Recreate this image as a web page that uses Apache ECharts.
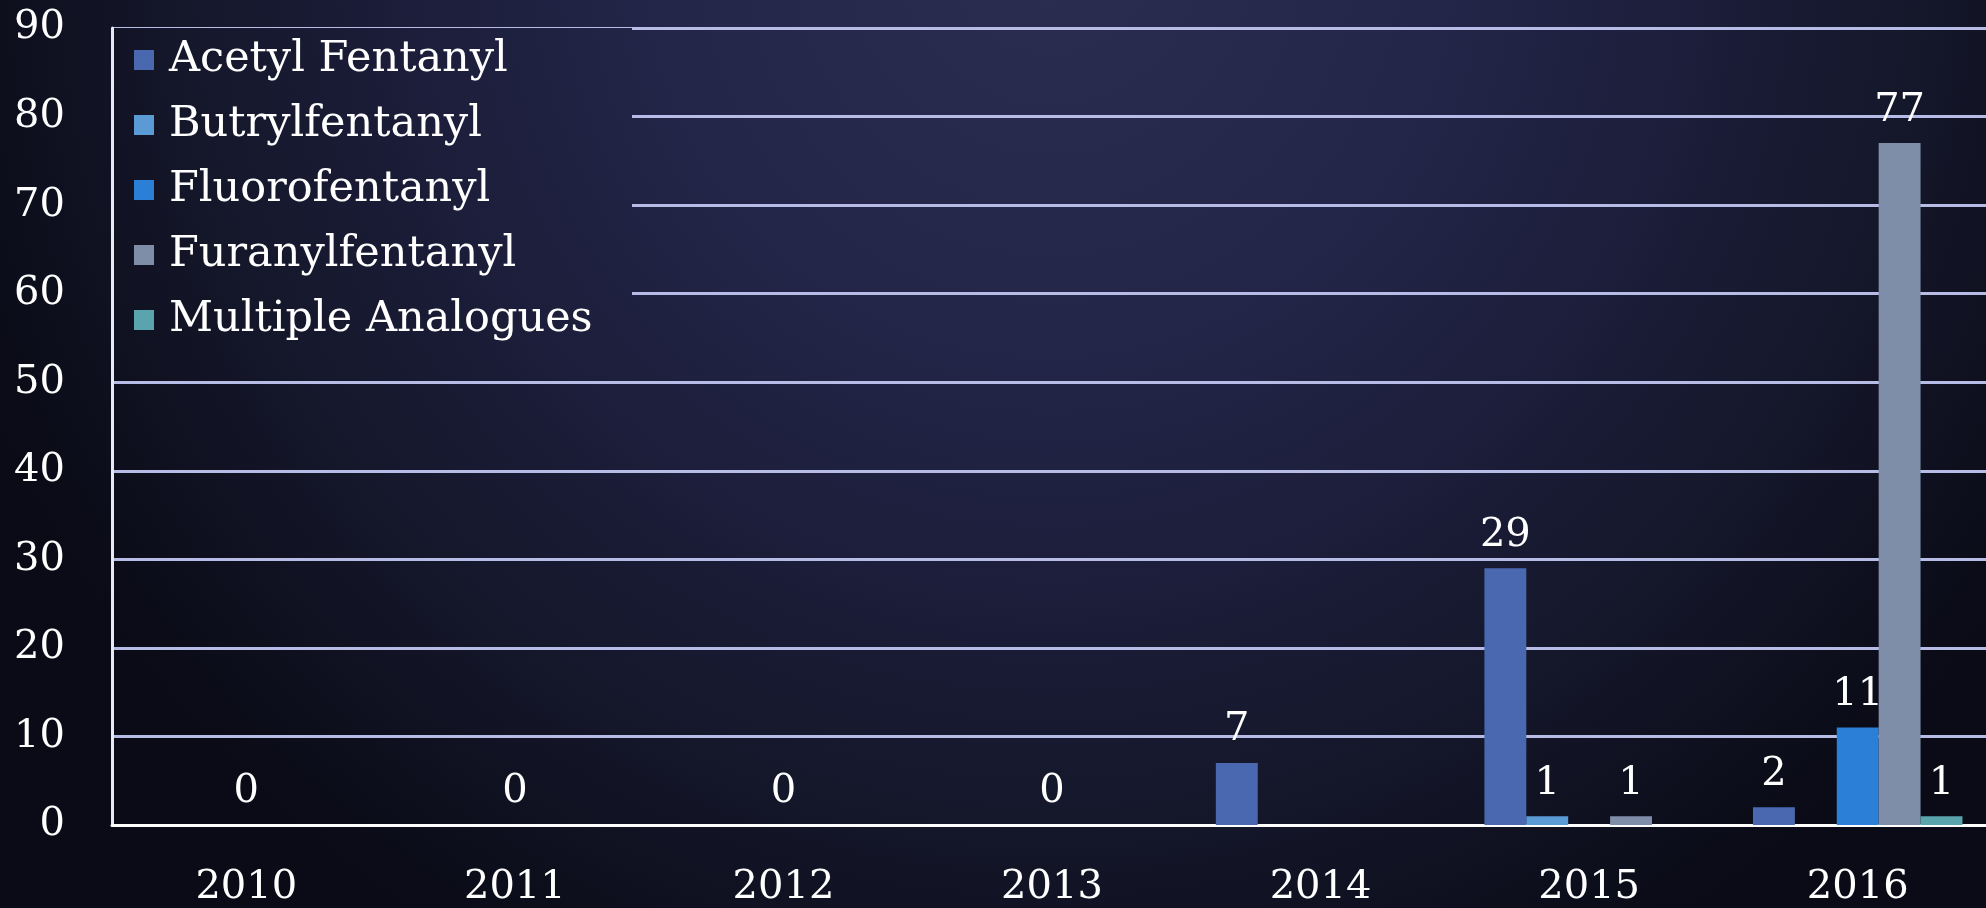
<!DOCTYPE html>
<html>
<head>
<meta charset="utf-8">
<script src="https://cdn.jsdelivr.net/npm/echarts@6/dist/echarts.min.js"></script>
<style>
html,body{margin:0;padding:0;background:#0b0c17;overflow:hidden;width:1986px;height:908px;}
#c{width:2000px;height:908px;}
</style>
</head>
<body>
<div id="c"></div>
<script>
var years = ['2010','2011','2012','2013','2014','2015','2016'];
var seriesNames = ['Acetyl Fentanyl','Butrylfentanyl','Fluorofentanyl','Furanylfentanyl','Multiple Analogues'];
var acetyl   = [null, null, null, null, 7, 29, 2];
var butryl   = [null, null, null, null, null, 1, null];
var fluoro   = [0, 0, 0, 0, null, null, 11];
var furanyl  = [null, null, null, null, null, 1, 77];
var multiple = [null, null, null, null, null, null, 1];
var yTicks = [0, 90, 10];
var colors = ['#4a68b0', '#5b9bd5', '#2b7fd6', '#7f8ea8', '#5aa4ad'];

var FONT = 'DejaVu Serif';
function makeBg() {
  return new echarts.graphic.RadialGradient(1050, -50, 1150, [
    {offset: 0, color: '#2a2d50'},
    {offset: 0.3, color: '#24274a'},
    {offset: 0.55, color: '#1c1e3b'},
    {offset: 0.75, color: '#15172b'},
    {offset: 1, color: '#0a0b16'}
  ], true);
}

var data = [acetyl, butryl, fluoro, furanyl, multiple];
var chart = echarts.init(document.getElementById('c'), null, {renderer: 'canvas'});
chart.setOption({
  backgroundColor: makeBg(),
  animation: false,
  color: colors,
  textStyle: {fontFamily: FONT},
  grid: {left: 112, top: 28, width: 1880, bottom: 81, containLabel: false},
  graphic: [{
    type: 'rect', z: 1, silent: true,
    shape: {x: 114, y: 28, width: 518, height: 327},
    style: {fill: makeBg()}
  }],
  legend: {
    orient: 'vertical',
    left: 114, top: 28,
    padding: [7, 33, 10, 20],
    itemWidth: 20, itemHeight: 20,
    itemGap: 15,
    icon: 'rect',
    textStyle: {color: '#ffffff', fontSize: 43, fontFamily: FONT, lineHeight: 50, padding: [0, 0, 0, 10]},
    data: seriesNames
  },
  xAxis: {
    type: 'category',
    data: years,
    axisLine: {show: true, lineStyle: {color: '#ffffff', width: 3}},
    axisTick: {show: false},
    axisLabel: {color: '#ffffff', fontSize: 40, fontFamily: FONT, margin: 43},
    splitLine: {show: false}
  },
  yAxis: {
    type: 'value',
    min: yTicks[0], max: yTicks[1], interval: yTicks[2],
    axisLine: {show: true, lineStyle: {color: '#e8e9f5', width: 3}},
    axisTick: {show: false},
    axisLabel: {color: '#ffffff', fontSize: 40, fontFamily: FONT, margin: 47},
    splitLine: {show: true, lineStyle: {color: '#b7bce6', width: 3}}
  },
  series: seriesNames.map(function (n, i) {
    return {
      name: n,
      type: 'bar',
      data: data[i],
      barGap: '0%',
      barCategoryGap: '22%',
      z: 3,
      itemStyle: {color: colors[i]},
      label: {
        show: true, position: 'top', distance: 13,
        color: '#ffffff', fontSize: 40, fontFamily: FONT
      }
    };
  })
});
</script>
</body>
</html>
